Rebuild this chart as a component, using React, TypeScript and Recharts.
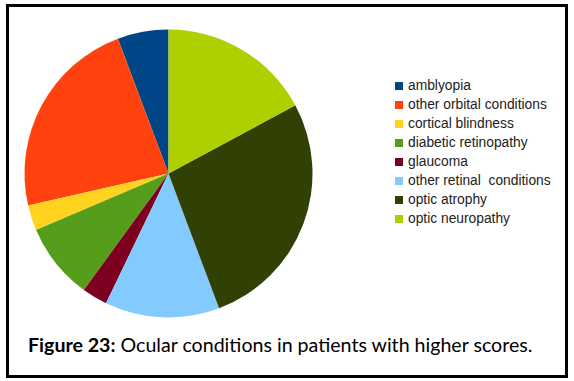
import React from "react";
import { PieChart, Pie, Cell, Legend } from "recharts";

const categories = [
  "amblyopia",
  "other orbital conditions",
  "cortical blindness",
  "diabetic retinopathy",
  "glaucoma",
  "other retinal  conditions",
  "optic atrophy",
  "optic neuropathy",
];
const values = [4, 16, 2, 6, 2, 9, 19, 12];
const colors = ["#004586", "#ff420e", "#ffd320", "#579d1c", "#7e0021", "#83caff", "#314004", "#aecf00"];

const data = categories.map((name, i) => ({ name, value: values[i] }));

const renderLegend = () => (
  <div style={{ fontFamily: "'Liberation Sans', Arial, sans-serif", fontSize: 13.8, color: "#222" }}>
    {categories.map((name, i) => (
      <div key={name} style={{ display: "flex", alignItems: "center", height: 19, whiteSpace: "pre" }}>
        <span style={{ display: "inline-block", width: 8, height: 8, background: colors[i], marginRight: 5, flexShrink: 0 }} />
        <span>{name}</span>
      </div>
    ))}
  </div>
);

export default function App() {
  return (
    <div style={{ position: "absolute", left: 0, top: 0, width: 574, height: 381, background: "#fff" }}>
      <div
        style={{
          position: "absolute",
          left: 6,
          top: 4,
          width: 556,
          height: 368,
          border: "3px solid #000",
        }}
      />
      <div style={{ position: "absolute", left: 0, top: 0 }}>
        <PieChart width={574} height={381} margin={{ top: 0, right: 0, bottom: 0, left: 0 }}>
          <Pie
            data={data}
            dataKey="value"
            nameKey="name"
            cx={168.5}
            cy={173.5}
            outerRadius={144}
            startAngle={90}
            endAngle={450}
            stroke="none"
            isAnimationActive={false}
          >
            {data.map((d, i) => (
              <Cell key={d.name} fill={colors[i]} />
            ))}
          </Pie>
          <Legend
            layout="vertical"
            content={renderLegend}
            wrapperStyle={{ position: "absolute", left: 395, top: 76, width: 175 }}
          />
        </PieChart>
      </div>
      <div
        style={{
          position: "absolute",
          left: 28,
          top: 333,
          fontFamily: "Lato, 'Open Sans', sans-serif",
          fontSize: 19.6,
          color: "#000",
          whiteSpace: "nowrap",
        }}
      >
        <b>Figure 23:</b> Ocular conditions in patients with higher scores.
      </div>
    </div>
  );
}
